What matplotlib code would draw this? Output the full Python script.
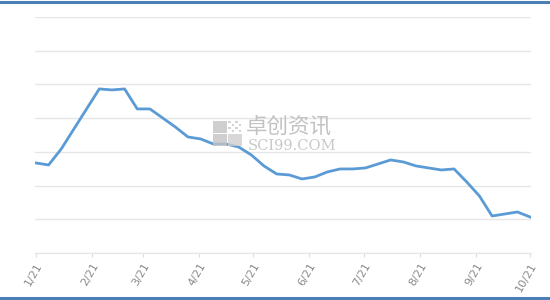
import numpy as np
import pandas as pd
import matplotlib
matplotlib.use("Agg")
import matplotlib.pyplot as plt
from matplotlib.patches import Rectangle

# weekly price (y axis labels not shown)
dates = pd.date_range("2021-01-21", periods=40, freq="7D")
price = [2671, 2611, 3086, 3680, 4273, 4866, 4837, 4866, 4273, 4273,
         4006, 3739, 3442, 3383, 3234, 3234, 3145, 2908, 2582, 2344,
         2315, 2196, 2255, 2404, 2493, 2493, 2522, 2641, 2760, 2700,
         2582, 2522, 2463, 2493, 2107, 1691, 1098, 1157, 1217, 1068]

tick_dates = [pd.Timestamp(2021, m, 21) for m in range(1, 11)]
tick_labels = [f"{d.month}/21" for d in tick_dates]

plt.rcParams['font.family'] = ['Noto Sans CJK SC', 'DejaVu Sans']

fig = plt.figure(figsize=(5.5, 3), dpi=100)
ax = fig.add_axes([35 / 550, 47 / 300, 496 / 550, 236 / 300])

ax.plot(dates, price, color="#5b9bd5", linewidth=2.0, solid_joinstyle="round", zorder=3)

ax.set_xlim(dates[0] - pd.Timedelta(days=0.5), dates[-1] + pd.Timedelta(days=0.5))
ax.set_ylim(0, 7000)
ax.set_yticks(np.arange(0, 7001, 1000))
ax.set_yticklabels([])
ax.tick_params(axis="y", length=0)
ax.grid(axis="y", color="#e6e6e6", linewidth=1.0)
ax.set_xticks(tick_dates)
ax.set_xticklabels(tick_labels, rotation=60, ha="right", rotation_mode="anchor",
                   fontsize=8, color="#8a8a8a", family="DejaVu Sans")
ax.tick_params(axis="x", length=3, color="#dddddd", pad=3)
for s in ["top", "right", "left"]:
    ax.spines[s].set_visible(False)
ax.spines["bottom"].set_color("#e6e6e6")

# watermark
def px(x, y, w, h, c):
    fig.add_artist(Rectangle((x / 550, 1 - (y + h) / 300), w / 550, h / 300,
                             transform=fig.transFigure, color=c, lw=0, alpha=0.8, zorder=4))

px(213, 121, 14, 12, "#c4c4c4")
px(213, 134, 14, 12, "#c4c4c4")
px(228, 134, 14, 12, "#cfcfcf")
for i in range(4):
    for j in range(4):
        if (i + j) % 2 == 0:
            px(228 + i * 3.5, 121 + j * 3.0, 2.6, 2.4, "#c8c8c8")
fig.text(246 / 550, 1 - 138 / 300, "卓创资讯", fontsize=15.5, color="#c2c2c2",
         va="bottom", ha="left", zorder=4)
fig.text(248 / 550, 1 - 138.5 / 300, "SCI99.COM", fontsize=10.5, color="#c8c8c8",
         va="top", ha="left", family="DejaVu Serif", zorder=4)

# blue frame lines top and bottom
fig.add_artist(plt.Line2D([0, 1], [1 - 1.5 / 300, 1 - 1.5 / 300], color="#4a7fb5", lw=2.2))
fig.add_artist(plt.Line2D([0, 1], [1 - 298 / 300, 1 - 298 / 300], color="#4a7fb5", lw=2.2))

fig.savefig("out.png", dpi=100)
